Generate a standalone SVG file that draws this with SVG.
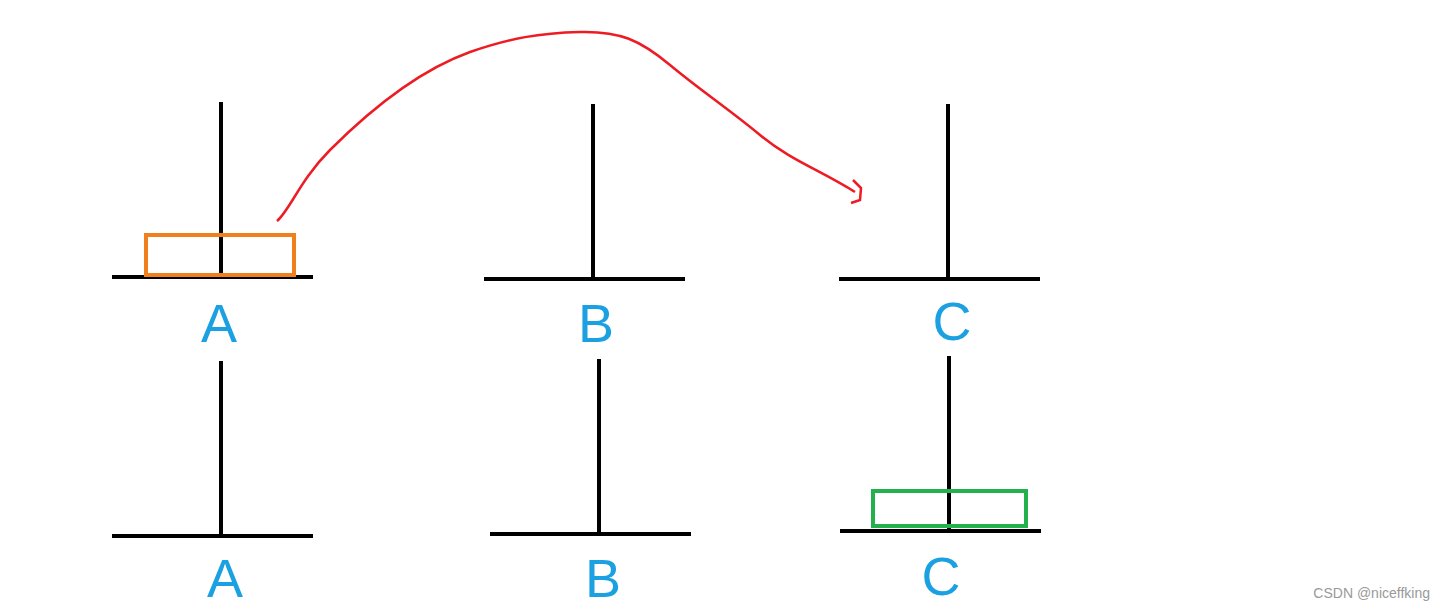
<svg xmlns="http://www.w3.org/2000/svg" width="1445" height="612" viewBox="0 0 1445 612">
<style>
.p{stroke:#000;stroke-width:4;fill:none}
.l{font-family:"Liberation Sans",sans-serif;font-size:54px;fill:#1ba1e2;text-anchor:middle}
</style>
<rect width="1445" height="612" fill="#fff"/>
<g id="pegA1"><path class="p" d="M221 102V277M112 277H313"/></g>
<g id="pegB1"><path class="p" d="M593 104V279M484 279H685"/></g>
<g id="pegC1"><path class="p" d="M948 104V279M839 279H1040"/></g>
<g id="pegA2"><path class="p" d="M221 361V536M112 536H313"/></g>
<g id="pegB2"><path class="p" d="M599 359V534M490 534H691"/></g>
<g id="pegC2"><path class="p" d="M949 356V531M840 531H1041"/></g>
<g id="disk1"><rect x="146" y="235" width="148" height="40" fill="none" stroke="#f07f1e" stroke-width="4"/></g>
<g id="disk2"><rect x="873" y="491" width="153" height="35" fill="none" stroke="#22b14c" stroke-width="4"/></g>
<g id="labels">
<text class="l" x="219" y="342">A</text>
<text class="l" x="596" y="342">B</text>
<text class="l" x="952" y="340">C</text>
<text class="l" x="225" y="597">A</text>
<text class="l" x="603" y="597">B</text>
<text class="l" x="941" y="595">C</text>
</g>
<g id="connectors">
<path d="M277 221C290 210 300 180 330 150C370 110 420 70 470 52C510 38 540 33 580 32C620 31 640 40 670 65C700 90 730 110 760 135C790 160 820 170 855 192" fill="none" stroke="#ed1c24" stroke-width="2.5"/>
<path d="M853 180L861 188L860 200L851 203" fill="none" stroke="#ed1c24" stroke-width="2.5"/>
</g>
<text x="1430" y="598" font-family="Liberation Sans,sans-serif" font-size="14" fill="#999" text-anchor="end">CSDN @niceffking</text>
</svg>
